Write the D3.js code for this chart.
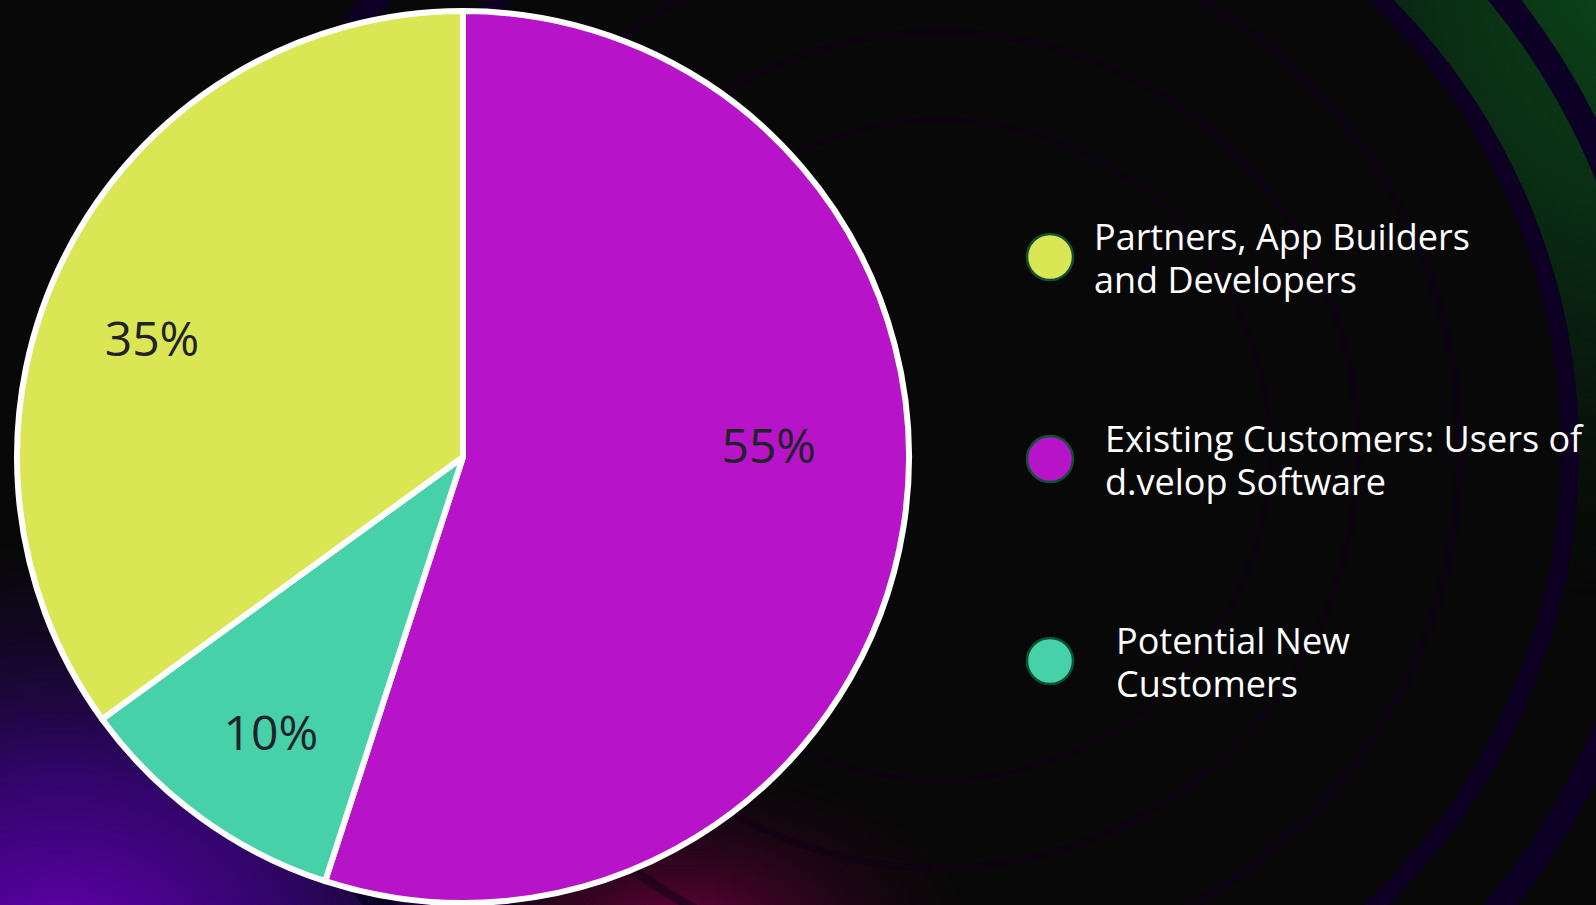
<!DOCTYPE html>
<html>
<head>
<meta charset="utf-8">
<script src="https://cdn.jsdelivr.net/npm/d3@7"></script>
<style>
    html, body { margin: 0; padding: 0; background: #080808; overflow: hidden; }
    svg { display: block; }
</style>
</head>
<body>
<svg id="chart" width="1596" height="905"></svg>
<script>

// Data
const categories = [
    "Partners, App Builders and Developers",
    "Existing Customers: Users of d.velop Software",
    "Potential New Customers"
];
const legendLines = [
    ["Partners, App Builders", "and Developers"],
    ["Existing Customers: Users of", "d.velop Software"],
    ["Potential New", "Customers"]
];
const shares = [35, 55, 10];
const colors = ["#dbe655", "#b713c9", "#47d1a8"];
// Clockwise from 12 o'clock
const pieOrder = [1, 2, 0];

// Configs
const configs = {
    width: 1596,
    height: 905,
    cx: 463,
    cy: 457,
    r: 446,
    stroke: 6,
    // label placement per category: angle nudge (rad), radius factor
    labelPos: {
        0: { nudge: -0.108, k: 0.746 },
        1: { nudge: -0.194, k: 0.686 },
        2: { nudge: -0.02, k: 0.754 }
    },
    legendX: 1050,
    legendY: [257, 459, 661],
    legendIndent: [44, 55, 66],
    legendR: 23
};

const svg = d3.select('#chart');
const defs = svg.append('defs');

// Background
svg.append('rect')
    .attr('width', configs.width)
    .attr('height', configs.height)
    .attr('fill', '#080808');

const glow = (id, stops) => {
    const g = defs.append('radialGradient').attr('id', id);
    stops.forEach(s => g.append('stop')
        .attr('offset', s[0])
        .attr('stop-color', s[1])
        .attr('stop-opacity', s[2]));
};
glow('g_purple', [[0, '#6a00b8', 1], [0.45, '#3a0480', 0.8], [1, '#1a0640', 0]]);
glow('g_red', [[0, '#7a0040', 0.85], [0.5, '#4a0030', 0.45], [1, '#200010', 0]]);
glow('g_green', [[0, '#0c4a1c', 1], [0.5, '#0a2e14', 0.8], [1, '#081a0c', 0]]);

svg.append('ellipse')
    .attr('cx', 60).attr('cy', 960)
    .attr('rx', 520).attr('ry', 420)
    .attr('fill', 'url(#g_purple)');
svg.append('ellipse')
    .attr('cx', 680).attr('cy', 930)
    .attr('rx', 300).attr('ry', 170)
    .attr('fill', 'url(#g_red)');

// Green glow outside the outer ring, top right
defs.append('mask').attr('id', 'm_outer')
    .call(m => {
        m.append('rect').attr('width', configs.width).attr('height', configs.height).attr('fill', 'white');
        m.append('circle').attr('cx', 940).attr('cy', 450).attr('r', 630).attr('fill', 'black');
    });
svg.append('ellipse')
    .attr('cx', 1640).attr('cy', -40)
    .attr('rx', 520).attr('ry', 640)
    .attr('fill', 'url(#g_green)')
    .attr('mask', 'url(#m_outer)');

// Concentric rings
const rings = [
    { r: 330, w: 5, c: '#110016', o: 0.6 },
    { r: 418, w: 7, c: '#110016', o: 0.6 },
    { r: 520, w: 9, c: '#100018', o: 0.55 },
    { r: 630, w: 18, c: '#0d0022', o: 1 },
    { r: 722, w: 26, c: '#0c0024', o: 1 }
];
svg.append('g')
    .selectAll('circle')
    .data(rings)
    .join('circle')
    .attr('cx', 940)
    .attr('cy', 450)
    .attr('r', d => d.r)
    .attr('fill', 'none')
    .attr('stroke', d => d.c)
    .attr('stroke-width', d => d.w)
    .attr('stroke-opacity', d => d.o);

// Pie
const pie = d3.pie()
    .sort(null)
    .value(i => shares[i]);
const arcs = pie(pieOrder);

const arc = d3.arc()
    .innerRadius(0)
    .outerRadius(configs.r);

const pieG = svg.append('g')
    .attr('transform', `translate(${configs.cx},${configs.cy})`);

pieG.selectAll('path')
    .data(arcs)
    .join('path')
    .attr('d', arc)
    .attr('fill', d => colors[d.data])
    .attr('stroke', '#ffffff')
    .attr('stroke-width', configs.stroke)
    .attr('stroke-linejoin', 'round');

// Labels
const labelXY = d => {
    const p = configs.labelPos[d.data];
    const a = (d.startAngle + d.endAngle) / 2 + p.nudge;
    const lr = configs.r * p.k;
    return [Math.sin(a) * lr, -Math.cos(a) * lr];
};
pieG.selectAll('text')
    .data(arcs)
    .join('text')
    .attr('x', d => labelXY(d)[0])
    .attr('y', d => labelXY(d)[1])
    .attr('dy', '0.36em')
    .attr('text-anchor', 'middle')
    .attr('font-family', "'Open Sans', sans-serif")
    .attr('font-size', 48)
    .attr('fill', '#22222a')
    .text(d => `${shares[d.data]}%`);

// Legend
const legend = svg.append('g');
const items = legend.selectAll('g')
    .data(categories.map((c, i) => i))
    .join('g')
    .attr('transform', i => `translate(${configs.legendX},${configs.legendY[i]})`);

items.append('circle')
    .attr('r', configs.legendR)
    .attr('fill', i => colors[i])
    .attr('stroke', '#0b5232')
    .attr('stroke-width', 2.5);

items.append('text')
    .attr('x', i => configs.legendIndent[i])
    .attr('font-family', "'Open Sans', sans-serif")
    .attr('font-size', 36)
    .attr('fill', '#ffffff')
    .selectAll('tspan')
    .data(i => legendLines[i].map(t => ({ t, i })))
    .join('tspan')
    .attr('x', d => configs.legendIndent[d.i])
    .attr('y', (d, k) => k === 0 ? -7 : 36)
    .text(d => d.t);

</script>
</body>
</html>
